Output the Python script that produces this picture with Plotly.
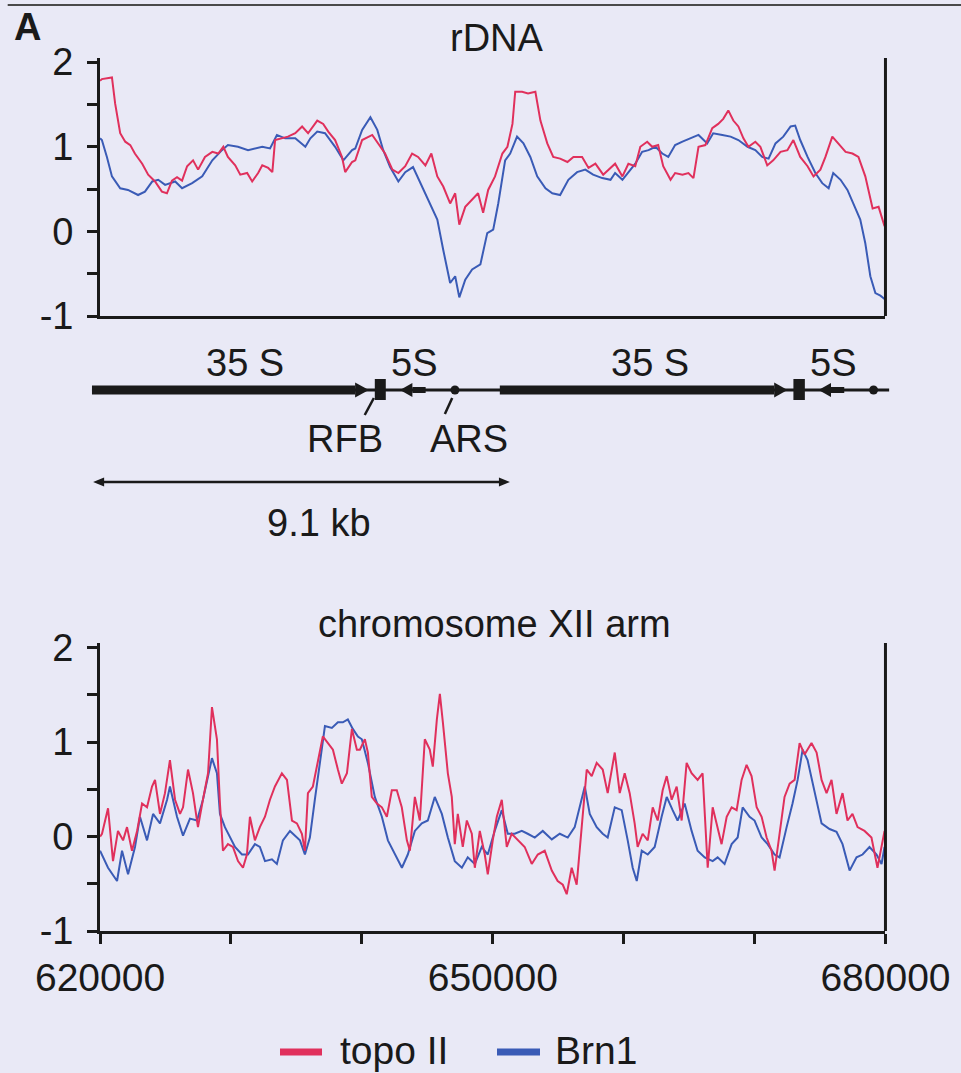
import plotly.graph_objects as go

# ---------------- data ----------------
# rDNA panel (position in kb along the repeat)
RDNA_KB_TOPO = [0.00,0.04,0.26,0.33,0.44,0.55,0.66,0.76,0.92,1.05,1.20,1.35,1.46,1.57,1.68,1.79,1.90,2.03,2.14,2.29,
                2.45,2.58,2.69,2.79,2.95,3.06,3.21,3.32,3.45,3.54,3.67,3.76,3.82,3.97,4.10,4.26,4.41,4.54,4.74,4.87,
                4.98,5.13,5.28,5.35,5.50,5.57,5.72,5.94,6.07,6.22,6.38,6.51,6.66,6.81,6.94,7.10,7.23,7.36,7.49,7.64,
                7.75,7.84,7.97,8.12,8.25,8.36,8.47,8.62,8.78,8.89,9.00,9.06,9.21,9.34,9.50,9.61,9.76,9.89,10.04,10.20,
                10.33,10.52,10.66,10.81,10.98,11.24,11.40,11.53,11.68,11.79,11.94,12.05,12.18,12.29,12.45,12.55,12.71,12.84,12.95,13.06,
                13.21,13.36,13.49,13.60,13.71,13.82,13.93,14.04,14.15,14.30,14.41,14.56,14.69,14.85,15.00,15.13,15.28,15.44,15.57,15.72,
                15.83,15.98,16.11,16.27,16.42,16.55,16.70,16.86,16.99,17.12]
RDNA_TOPO = [1.78,1.80,1.82,1.51,1.16,1.06,1.02,0.92,0.80,0.67,0.59,0.47,0.45,0.60,0.64,0.60,0.77,0.84,0.73,0.88,
             0.94,0.92,1.00,0.88,0.78,0.67,0.69,0.59,0.69,0.78,0.75,0.70,1.08,1.10,1.12,1.16,1.24,1.16,1.31,1.27,
             1.18,1.08,0.88,0.70,0.82,0.84,1.08,1.14,1.04,0.92,0.73,0.69,0.77,0.92,0.88,0.78,0.92,0.65,0.53,0.33,
             0.45,0.08,0.29,0.37,0.45,0.22,0.49,0.65,0.92,1.00,1.27,1.65,1.65,1.63,1.65,1.31,1.04,0.88,0.86,0.82,
             0.88,0.88,0.75,0.80,0.67,0.80,0.65,0.80,0.77,1.00,1.06,1.00,1.02,0.77,0.61,0.69,0.67,0.69,0.63,1.00,
             1.02,1.22,1.27,1.33,1.43,1.31,1.24,1.10,1.00,1.06,1.00,0.78,0.84,0.94,0.96,1.08,0.88,0.77,0.65,0.73,
             0.88,1.12,1.04,0.94,0.92,0.88,0.65,0.27,0.29,0.06]

RDNA_KB_BRN = [0.00,0.04,0.15,0.26,0.44,0.61,0.83,0.98,1.14,1.27,1.42,1.64,1.79,2.01,2.23,2.45,2.66,2.79,3.01,3.23,
               3.54,3.71,3.86,4.04,4.26,4.48,4.59,4.74,4.91,5.13,5.31,5.50,5.57,5.72,5.90,6.05,6.18,6.33,6.51,6.66,
               6.83,7.03,7.16,7.36,7.49,7.64,7.75,7.84,7.97,8.12,8.30,8.45,8.58,8.69,8.84,8.95,9.10,9.24,9.39,9.54,
               9.72,9.87,10.04,10.22,10.41,10.59,10.76,10.96,11.14,11.24,11.40,11.53,11.68,11.83,11.97,12.12,12.27,12.40,12.55,12.71,
               12.88,13.06,13.25,13.38,13.58,13.76,13.93,14.13,14.30,14.45,14.59,14.74,14.91,15.07,15.17,15.28,15.44,15.61,15.76,15.90,
               16.00,16.16,16.31,16.44,16.59,16.70,16.81,16.92,17.03,17.12]
RDNA_BRN = [1.10,1.08,0.88,0.65,0.51,0.49,0.43,0.47,0.59,0.61,0.55,0.59,0.51,0.57,0.65,0.84,0.96,1.02,1.00,0.96,
            1.00,0.98,1.14,1.10,1.10,1.00,1.10,1.18,1.16,1.00,0.84,0.96,0.98,1.20,1.35,1.20,0.96,0.76,0.59,0.70,
            0.76,0.53,0.37,0.14,-0.22,-0.61,-0.53,-0.78,-0.57,-0.45,-0.39,-0.02,0.02,0.33,0.84,0.92,1.12,1.04,0.88,0.65,
            0.51,0.45,0.43,0.61,0.70,0.73,0.67,0.63,0.61,0.69,0.61,0.70,0.80,0.94,0.96,1.00,0.92,0.88,1.02,1.06,
            1.10,1.14,1.04,1.16,1.14,1.12,1.08,1.00,0.96,0.88,0.86,1.04,1.12,1.24,1.25,1.08,0.88,0.69,0.57,0.51,
            0.69,0.61,0.49,0.33,0.14,-0.14,-0.53,-0.73,-0.76,-0.80]

# chromosome XII arm panel (genomic coordinate, bp)
ARM_POS_TOPO = [620000,620150,620610,620990,621370,621760,622060,622440,622830,623210,623590,623970,624200,624580,624960,625340,625730,626110,626340,626720,
                627100,627480,627860,628250,628550,628930,629160,629390,629770,630150,630540,630920,631220,631450,631830,632210,632600,632980,633360,633890,
                634280,634660,635040,635420,635650,635880,636260,636640,637020,637410,637790,638170,638470,638860,639240,639620,639850,640230,640460,640760,
                641150,641530,641910,642290,642670,643050,643440,643670,644050,644430,644810,645190,645420,645730,645960,646190,646570,646870,647100,647330,
                647710,648020,648400,648630,649010,649390,649620,650000,650310,650690,651070,651450,651910,652440,652980,653440,653970,654510,654960,655350,
                655650,656030,656410,656800,657180,657560,657940,658400,658780,659320,659700,660080,660460,660840,661070,661450,661840,662220,662600,662980,
                663290,663670,664050,664430,664810,665190,665650,666030,666420,666800,667180,667480,667870,668250,668630,669010,669390,669770,670160,670540,
                670920,671300,671530,671910,672290,672680,673060,673440,673820,674350,674740,675120,675500,675880,676260,676720,677100,677480,677870,678400,
                678930,679390,679930]
ARM_TOPO = [0.00,0.03,0.30,-0.26,0.06,-0.04,0.10,-0.15,0.06,0.35,0.31,0.53,0.60,0.24,0.46,0.81,0.39,0.24,0.31,0.71,
            0.46,0.10,0.39,0.67,1.37,1.03,0.35,-0.15,-0.08,-0.11,-0.26,-0.33,-0.19,0.21,-0.04,0.10,0.21,0.39,0.53,0.67,
            0.60,0.17,0.14,0.03,-0.15,0.46,0.53,0.78,1.06,0.99,0.92,0.71,0.56,0.67,1.14,0.92,0.92,1.03,0.89,0.42,
            0.35,0.31,0.21,0.49,0.49,0.31,-0.04,-0.15,0.42,0.17,1.03,0.92,0.74,1.24,1.51,1.21,0.67,0.42,-0.08,0.24,
            -0.11,0.17,0.03,-0.33,0.06,-0.19,-0.40,-0.04,0.21,0.39,-0.11,0.03,-0.04,-0.11,-0.29,-0.19,-0.15,-0.36,-0.47,-0.51,
            -0.61,-0.33,-0.51,0.14,0.71,0.64,0.78,0.71,0.46,0.89,0.46,0.67,0.46,0.14,-0.11,0.03,-0.04,0.31,0.17,0.49,
            0.64,0.39,0.53,0.17,0.78,0.67,0.60,0.67,-0.33,0.31,0.10,-0.08,0.21,0.31,0.28,0.60,0.76,0.64,0.31,0.21,
            -0.01,-0.15,-0.36,0.03,0.42,0.56,0.60,0.99,0.87,0.99,0.89,0.60,0.46,0.60,0.24,0.46,0.17,0.24,0.10,0.06,
            -0.01,-0.33,0.06]

ARM_POS_BRN = [620000,620150,620610,621300,621680,622140,622670,623050,623590,624050,
               624580,625120,625340,625880,626340,626870,627410,627860,628250,628550,
               628930,629160,629540,629920,630310,630840,631300,631830,632210,632600,
               633130,633510,633970,634510,634890,635270,635650,636030,636410,636800,
               637180,637710,638170,638550,638930,639310,639700,640000,640460,640990,
               641530,641990,642520,643060,643510,644050,644580,645040,645570,646110,
               646570,647100,647640,648090,648630,649160,649620,650150,650690,651150,
               651680,652220,652670,653210,653820,654510,655120,655730,656260,657030,
               657410,657940,658400,658780,659320,659850,660310,660690,661000,661380,
               661840,662370,662900,663290,663740,664120,664660,665190,665650,666190,
               666800,667180,667710,668250,668710,669090,669620,670000,670540,671000,
               671530,671910,672450,672900,673290,673670,674050,674590,675120,675730,
               676260,676720,677260,677790,678250,678780,679320,679700,679930]
ARM_BRN = [-0.15,-0.19,-0.33,-0.47,-0.15,-0.40,-0.11,0.21,-0.04,0.24,
           0.14,0.39,0.53,0.21,0.01,0.19,0.17,0.39,0.64,0.83,
           0.67,0.24,0.10,-0.01,-0.11,-0.19,-0.19,-0.08,-0.11,-0.26,
           -0.24,-0.29,-0.04,0.06,0.01,-0.04,-0.19,-0.01,0.39,0.78,
           1.17,1.15,1.21,1.21,1.24,1.14,1.06,1.03,0.78,0.42,
           0.21,-0.04,-0.19,-0.33,-0.19,0.06,0.14,0.17,0.42,0.24,
           -0.01,-0.26,-0.33,-0.22,-0.29,-0.11,-0.19,0.06,0.28,0.03,
           0.03,0.06,0.03,-0.01,0.06,-0.03,0.03,-0.01,0.10,0.53,
           0.24,0.10,0.03,-0.01,0.31,0.28,-0.04,-0.33,-0.47,-0.15,
           -0.19,-0.11,0.21,0.42,0.28,0.17,0.35,0.06,-0.15,-0.22,
           -0.26,-0.22,-0.29,-0.08,-0.01,0.31,0.21,0.17,-0.01,-0.08,
           -0.19,-0.22,0.10,0.35,0.60,0.92,0.81,0.46,0.14,0.08,
           0.05,-0.08,-0.36,-0.22,-0.19,-0.11,-0.19,-0.29,-0.11]

assert len(RDNA_KB_TOPO) == len(RDNA_TOPO), (len(RDNA_KB_TOPO), len(RDNA_TOPO))
assert len(RDNA_KB_BRN) == len(RDNA_BRN), (len(RDNA_KB_BRN), len(RDNA_BRN))
assert len(ARM_POS_TOPO) == len(ARM_TOPO), (len(ARM_POS_TOPO), len(ARM_TOPO))
assert len(ARM_POS_BRN) == len(ARM_BRN), (len(ARM_POS_BRN), len(ARM_BRN))

SERIES = ["topo II", "Brn1"]
Y_TICKVALS = [-1, -0.5, 0, 0.5, 1, 1.5, 2]
Y_TICKTEXT = ["-1", "", "0", "", "1", "", "2"]
X_TICKVALS = [620000, 630000, 640000, 650000, 660000, 670000, 680000]
X_TICKTEXT = ["620000", "", "", "650000", "", "", "680000"]

# rDNA repeat map features (kb along the same scale as the rDNA panel)
MAP_LINE = (-0.175, 17.23)
MAP_35S = [(-0.175, 5.57, 5.87), (8.73, 14.72, 15.01)]      # start, head base, tip
MAP_RFB = [(6.00, 6.24), (15.14, 15.39)]
MAP_5S = [(6.55, 6.82, 7.11), (15.69, 15.96, 16.25)]        # tip, head base, tail end
MAP_ARS = [7.75, 16.89]
MAP_LABELS_35S = [3.17, 12.01]
MAP_LABELS_5S = [6.86, 16.00]
SCALE_BAR = (-0.15, 8.95)

# ---------------- style ----------------
RED = "#E0305C"
BLUE = "#3A5BB6"
INK = "#1a1a1a"
BG = "#E9E9F6"
FONT = "Liberation Sans, Arial, sans-serif"

fig = go.Figure()

fig.add_trace(go.Scatter(x=RDNA_KB_BRN, y=RDNA_BRN, mode="lines", line=dict(color=BLUE, width=2),
                         name=SERIES[1], xaxis="x", yaxis="y", showlegend=False))
fig.add_trace(go.Scatter(x=RDNA_KB_TOPO, y=RDNA_TOPO, mode="lines", line=dict(color=RED, width=2),
                         name=SERIES[0], xaxis="x", yaxis="y", showlegend=False))
fig.add_trace(go.Scatter(x=ARM_POS_BRN, y=ARM_BRN, mode="lines", line=dict(color=BLUE, width=2),
                         name=SERIES[1], xaxis="x2", yaxis="y2", showlegend=False))
fig.add_trace(go.Scatter(x=ARM_POS_TOPO, y=ARM_TOPO, mode="lines", line=dict(color=RED, width=2),
                         name=SERIES[0], xaxis="x2", yaxis="y2", showlegend=False))

# ARS dots in the map
fig.add_trace(go.Scatter(x=MAP_ARS, y=[155] * len(MAP_ARS), mode="markers",
                         marker=dict(color=INK, size=9), xaxis="x3", yaxis="y3",
                         showlegend=False, hoverinfo="skip"))

XDOM = [0.1041, 0.9214]
yax_common = dict(range=[-1, 2.05], tickvals=Y_TICKVALS, ticktext=Y_TICKTEXT, ticks="outside",
                  ticklen=10, tickwidth=3, tickcolor=INK, showline=True, linewidth=3, linecolor=INK,
                  showgrid=False, zeroline=False, ticklabelstandoff=6, automargin=False,
                  tickfont=dict(family=FONT, size=38, color=INK), fixedrange=True)

fig.update_layout(
    width=961, height=1073, autosize=False,
    margin=dict(l=0, r=0, t=0, b=0, pad=0, autoexpand=False),
    paper_bgcolor=BG, plot_bgcolor=BG,
    font=dict(family=FONT, color=INK),
    showlegend=False,
    xaxis=dict(domain=XDOM, anchor="y", range=[0, 17.14], showline=True, linewidth=3, linecolor=INK,
               ticks="", showticklabels=False, showgrid=False, zeroline=False, fixedrange=True,
               automargin=False),
    yaxis=dict(domain=[0.7055, 0.9460], anchor="x", **yax_common),
    xaxis2=dict(domain=XDOM, anchor="y2", range=[620000, 680000], tickvals=X_TICKVALS, ticktext=X_TICKTEXT,
                ticks="outside", ticklen=10, tickwidth=3, tickcolor=INK, showline=True, linewidth=3,
                linecolor=INK, showgrid=False, zeroline=False, ticklabelstandoff=0, automargin=False,
                tickfont=dict(family=FONT, size=39, color=INK), fixedrange=True),
    yaxis2=dict(domain=[0.1323, 0.4008], anchor="x2", **yax_common),
    xaxis3=dict(domain=[0, 1], anchor="y3", range=[-2.1834, 18.7991], visible=False, fixedrange=True,
                automargin=False),
    yaxis3=dict(domain=[0.49208, 0.68779], anchor="x3", range=[0, 210], visible=False, fixedrange=True,
                automargin=False),
)

shapes = []
# top rule across the page
shapes.append(dict(type="line", xref="paper", yref="paper", x0=0.008, x1=1, y0=0.9953, y1=0.9953,
                   line=dict(color="#4a4a4a", width=2)))
# right-hand frame lines of both panels
for xr, yr in [("x", "y"), ("x2", "y2")]:
    shapes.append(dict(type="line", xref=f"{xr} domain", yref=f"{yr} domain", x0=1, x1=1, y0=0, y1=1,
                       line=dict(color=INK, width=3)))

# rDNA map
M = dict(xref="x3", yref="y3")
shapes.append(dict(type="line", x0=MAP_LINE[0], x1=MAP_LINE[1], y0=155, y1=155,
                   line=dict(color=INK, width=3), **M))
for start, base, tip in MAP_35S:
    shapes.append(dict(type="rect", x0=start, x1=base, y0=150.5, y1=159.5, fillcolor=INK,
                       line=dict(width=0), **M))
    shapes.append(dict(type="path", path=f"M {base},147.5 L {tip},155 L {base},162.5 Z",
                       fillcolor=INK, line=dict(width=0), **M))
for a, b in MAP_RFB:
    shapes.append(dict(type="rect", x0=a, x1=b, y0=145, y1=166, fillcolor=INK, line=dict(width=0), **M))
for tip, base, tail in MAP_5S:
    shapes.append(dict(type="path", path=f"M {tip},155 L {base},162 L {base},148 Z",
                       fillcolor=INK, line=dict(width=0), **M))
    shapes.append(dict(type="rect", x0=base, x1=tail, y0=152, y1=158, fillcolor=INK,
                       line=dict(width=0), **M))
# leader lines
shapes.append(dict(type="line", x0=5.98, x1=5.78, y0=147, y1=130, line=dict(color=INK, width=2.5), **M))
shapes.append(dict(type="line", x0=7.69, x1=7.53, y0=147, y1=131, line=dict(color=INK, width=2.5), **M))
# 9.1 kb scale bar
shapes.append(dict(type="line", x0=SCALE_BAR[0] + 0.1, x1=SCALE_BAR[1] - 0.1, y0=63, y1=63,
                   line=dict(color=INK, width=2.5), **M))
shapes.append(dict(type="path", path=f"M {SCALE_BAR[0]},63 L {SCALE_BAR[0]+0.24},67.5 L {SCALE_BAR[0]+0.24},58.5 Z",
                   fillcolor=INK, line=dict(width=0), **M))
shapes.append(dict(type="path", path=f"M {SCALE_BAR[1]},63 L {SCALE_BAR[1]-0.24},67.5 L {SCALE_BAR[1]-0.24},58.5 Z",
                   fillcolor=INK, line=dict(width=0), **M))

# legend (drawn manually: coloured bar + label)
LEGEND_Y = 1 - 1052 / 1073
for (x0, x1, xt), name, col in zip([(280, 322, 340), (497, 540, 555)], SERIES, [RED, BLUE]):
    shapes.append(dict(type="line", xref="paper", yref="paper", x0=x0 / 961, x1=x1 / 961,
                       y0=LEGEND_Y, y1=LEGEND_Y, line=dict(color=col, width=7)))

annotations = []
def txt(text, x, y, size, xref="paper", yref="paper", xanchor="center", weight="normal"):
    annotations.append(dict(text=text, x=x, y=y, xref=xref, yref=yref, xanchor=xanchor, yanchor="middle",
                            showarrow=False, font=dict(family=FONT, size=size, color=INK, weight=weight)))

txt("A", 0.012, 1 - 27 / 1073, 38, xanchor="left", weight="bold")
txt("rDNA", 497 / 961, 1 - 38 / 1073, 38)
txt("chromosome XII arm", 494 / 961, 1 - 624 / 1073, 38)
for xk in MAP_LABELS_35S:
    txt("35 S", xk, 182, 38, xref="x3", yref="y3")
for xk in MAP_LABELS_5S:
    txt("5S", xk, 182, 38, xref="x3", yref="y3")
txt("RFB", 5.35, 106, 38, xref="x3", yref="y3")
txt("ARS", 8.06, 106, 38, xref="x3", yref="y3")
txt("9.1 kb", 4.78, 22, 38, xref="x3", yref="y3")
txt(SERIES[0], 338 / 961, 1 - 1050 / 1073, 39, xanchor="left")
txt(SERIES[1], 553 / 961, 1 - 1050 / 1073, 39, xanchor="left")

fig.update_layout(shapes=shapes, annotations=annotations)
fig.write_html("out.html")
